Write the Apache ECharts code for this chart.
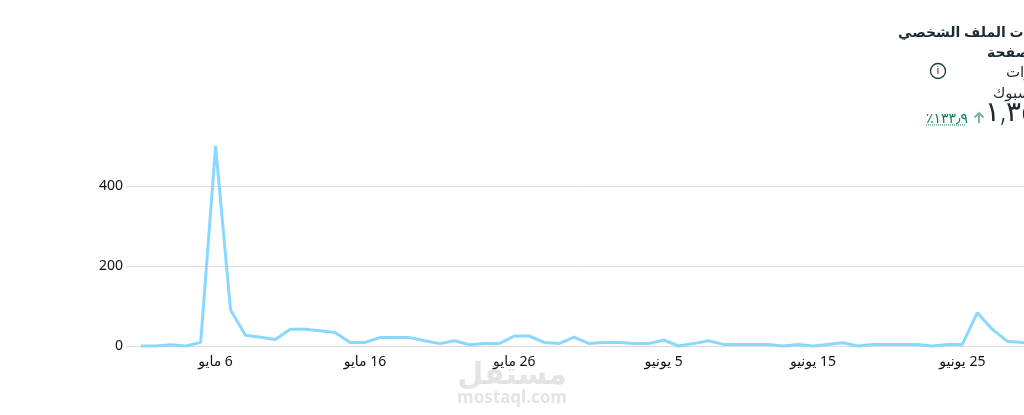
<!DOCTYPE html>
<html>
<head>
<meta charset="utf-8">
<style>
html, body { margin: 0; background: #fff; overflow: hidden; }
#chart { width: 1060px; height: 415px; }
</style>
<script src="https://cdn.jsdelivr.net/npm/echarts@6/dist/echarts.min.js"></script>
</head>
<body>
<div id="chart"></div>
<script>
const mayDays = [1,2,3,4,5,6,7,8,9,10,11,12,13,14,15,16,17,18,19,20,21,22,23,24,25,26,27,28,29,30,31];
const juneDays = [1,2,3,4,5,6,7,8,9,10,11,12,13,14,15,16,17,18,19,20,21,22,23,24,25,26,27,28,29,30];
// empty first slot, the grid lines start a bit before the first point
const categories = [''].concat(mayDays.map(d => d + ' مايو'), juneDays.map(d => d + ' يونيو'));
const visits = [
    null,
    0, 0, 3, 0, 9, 500, 90, 27, 22, 16,
    42, 42, 38, 34, 9, 9, 21, 21, 21, 13,
    6, 13, 3, 6, 6, 25, 25, 9, 6, 22,
    6, 9, 9, 6, 6, 15, 0, 6, 13, 4,
    4, 4, 4, 0, 4, 0, 4, 8, 0, 4,
    4, 4, 4, 0, 4, 4, 83, 42, 12, 9, 8
];

const chart = echarts.init(document.getElementById('chart'), null, { renderer: 'canvas' });

const font = '"Noto Sans", "DejaVu Sans", sans-serif';
const ink = '#1c2b33';
const arrowColor = '#7fb5a5';

chart.setOption({
    animation: false,
    backgroundColor: '#fff',
    grid: { left: 126, width: 911, top: 146, height: 200 },
    xAxis: {
        type: 'category',
        data: categories,
        boundaryGap: false,
        axisLine: { show: false },
        axisTick: { show: false },
        axisLabel: {
            color: '#111',
            fontSize: 14,
            fontFamily: font,
            margin: 9,
            hideOverlap: false,
            interval: (i) => i % 10 === 6,
            formatter: (v) => '\u200F' + v
        }
    },
    yAxis: {
        type: 'value',
        min: 0,
        max: 500,
        interval: 200,
        axisLine: { show: false },
        axisTick: { show: false },
        axisLabel: {
            color: '#111',
            fontSize: 14,
            fontFamily: font,
            margin: 3,
            padding: [2, 0, 0, 0],
            showMaxLabel: false
        },
        splitLine: { showMaxLine: false, lineStyle: { color: '#dcdcdc', width: 1 } }
    },
    series: [{
        type: 'line',
        data: visits,
        symbol: 'none',
        clip: false,
        lineStyle: { color: '#8bd8ff', width: 3 }
    }],
    graphic: [
        { type: 'text', left: 898, top: 26, style: { text: 'زيارات الملف الشخصي', fill: ink, font: 'bold 14px ' + font } },
        { type: 'text', left: 987, top: 46, style: { text: 'للصفحة', fill: ink, font: 'bold 14px ' + font } },
        { type: 'text', left: 1006, top: 65, style: { text: 'زيارات', fill: ink, font: '15px ' + font } },
        { type: 'text', left: 993, top: 86, style: { text: 'فيسبوك', fill: ink, font: '15px ' + font } },
        { type: 'text', left: 985, top: 99, style: { text: '١,٣٥٠', fill: ink, font: '300 28px ' + font } },
        { type: 'line', shape: { x1: 979, y1: 113, x2: 979, y2: 123 }, style: { stroke: arrowColor, lineWidth: 2 } },
        { type: 'polyline', shape: { points: [[974.5, 117.5], [979, 113], [983.5, 117.5]] }, style: { fill: 'none', stroke: arrowColor, lineWidth: 2 } },
        { type: 'text', left: 926, top: 112, style: { text: '٪١٣٣٫٩', fill: '#0a7c5c', font: '14px ' + font } },
        { type: 'line', shape: { x1: 926, y1: 125, x2: 966, y2: 125 }, style: { stroke: '#0a7c5c', lineWidth: 1, lineDash: [1, 1] } },
        { type: 'circle', shape: { cx: 938, cy: 71, r: 7.5 }, style: { fill: 'none', stroke: '#1c3b3b', lineWidth: 1.3 } },
        { type: 'text', x: 938, y: 71, style: { text: 'i', fill: '#1c3b3b', font: '11px ' + font, textAlign: 'center', textVerticalAlign: 'middle' } },
        { type: 'text', x: 512, y: 375, z: 10, style: { text: 'مستقل', fill: 'rgba(190,190,190,0.42)', font: 'bold 30px ' + font, textAlign: 'center', textVerticalAlign: 'middle' } },
        { type: 'text', x: 512, y: 398, z: 10, style: { text: 'mostaql.com', fill: 'rgba(190,190,190,0.42)', font: 'bold 17px ' + font, textAlign: 'center', textVerticalAlign: 'middle' } }
    ]
});
</script>
</body>
</html>
